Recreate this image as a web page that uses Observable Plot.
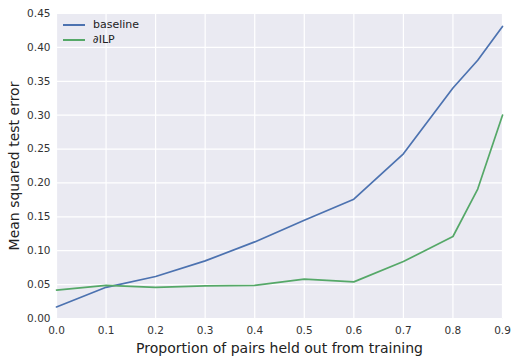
<!DOCTYPE html>
<html><head><meta charset="utf-8">
<script src="https://cdn.jsdelivr.net/npm/d3@7"></script>
<script src="https://cdn.jsdelivr.net/npm/@observablehq/plot@0.6"></script>
<style>
body{margin:0;background:#fff;font-family:"DejaVu Sans",sans-serif;}
#wrap{position:relative;width:516px;height:362px;}
.leg{position:absolute;left:63px;top:18px;font-size:11px;color:#222;line-height:14.5px;}
.leg div{display:flex;align-items:center;height:14.5px;}
.leg span.sw{display:inline-block;width:22px;height:2px;margin-right:8px;}
</style></head><body>
<div id="wrap"></div>
<script>
const xs = [0.0, 0.1, 0.2, 0.3, 0.4, 0.5, 0.6, 0.7, 0.8, 0.85, 0.9];
const baseline = [0.017, 0.046, 0.062, 0.085, 0.113, 0.145, 0.176, 0.243, 0.340, 0.381, 0.431];
const dilp = [0.042, 0.049, 0.046, 0.048, 0.049, 0.058, 0.054, 0.084, 0.121, 0.191, 0.300];
const seriesNames = ["baseline", "∂ILP"];
const seriesColors = ["#4C72B0", "#55A868"];
const xTicks = [0.0,0.1,0.2,0.3,0.4,0.5,0.6,0.7,0.8,0.9];
const yTicks = [0,0.05,0.1,0.15,0.2,0.25,0.3,0.35,0.4,0.45];

const rows = [];
xs.forEach((x,i)=>{
  rows.push({x, y: baseline[i], s: seriesNames[0]});
  rows.push({x, y: dilp[i], s: seriesNames[1]});
});

const chart = Plot.plot({
  width: 516, height: 362,
  marginLeft: 56, marginRight: 14, marginTop: 13, marginBottom: 44,
  style: {fontFamily: "DejaVu Sans, sans-serif", fontSize: "10.5px", color: "#333", background: "#fff"},
  x: {domain: [0, 0.9], ticks: xTicks, tickFormat: d3.format(".1f"), label: null},
  y: {domain: [0, 0.45], ticks: yTicks, tickFormat: d3.format(".2f"), label: null},
  color: {domain: seriesNames, range: seriesColors},
  marks: [
    Plot.frame({fill: "#EAEAF2", stroke: null}),
    Plot.gridX(xTicks, {stroke: "#fff", strokeOpacity: 1, strokeWidth: 1.2}),
    Plot.gridY(yTicks, {stroke: "#fff", strokeOpacity: 1, strokeWidth: 1.2}),
    Plot.axisX(xTicks, {tickSize: 0, tickPadding: 8, tickFormat: d3.format(".1f"), label: null, fill: "#333"}),
    Plot.axisY(yTicks, {tickSize: 0, tickPadding: 6, tickFormat: d3.format(".2f"), label: null, fill: "#333"}),
    Plot.line(rows, {x: "x", y: "y", stroke: "s", z: "s", strokeWidth: 1.7}),
    Plot.text(["Proportion of pairs held out from training"], {frameAnchor: "bottom", dy: 34, fontSize: 14, fill: "#222"}),
    Plot.text(["Mean squared test error"], {frameAnchor: "left", textAnchor: "middle", dx: -42, rotate: -90, fontSize: 14, fill: "#222"})
  ]
});
const wrap = document.getElementById("wrap");
wrap.appendChild(chart);
const leg = document.createElement("div");
leg.className = "leg";
seriesNames.forEach((n,i)=>{
  const d = document.createElement("div");
  const sw = document.createElement("span");
  sw.className = "sw"; sw.style.background = seriesColors[i];
  d.appendChild(sw);
  d.appendChild(document.createTextNode(n));
  leg.appendChild(d);
});
wrap.appendChild(leg);
</script>
</body></html>
